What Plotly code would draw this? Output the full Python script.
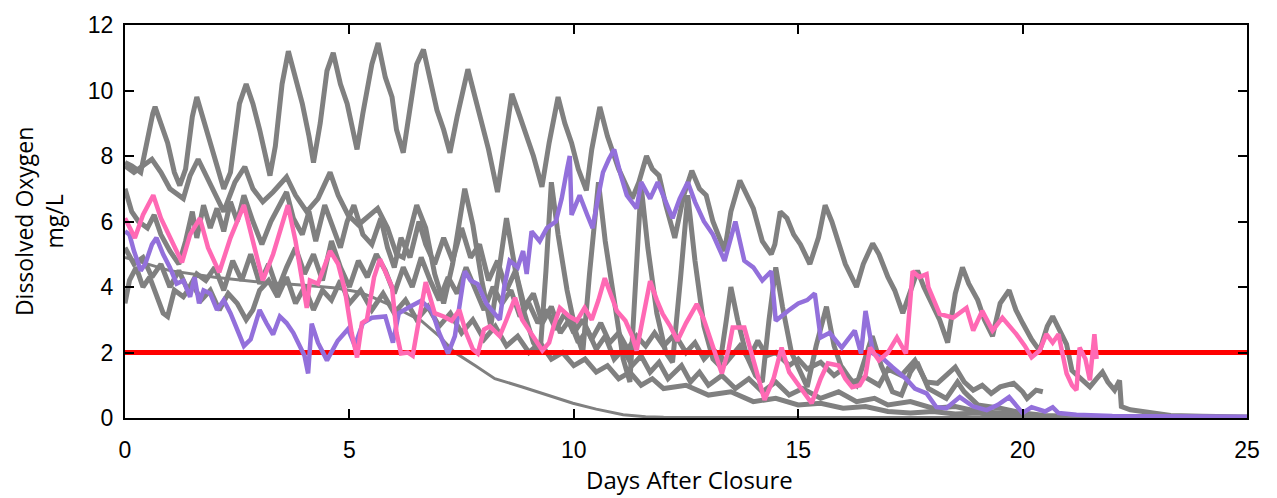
import plotly.graph_objects as go

# Dissolved oxygen (mg/L) after closure, one list of (day, DO) per sensor record
GRAY_A = [(0.0, 7.8), (0.15, 7.7), (0.35, 7.5), (0.5, 8.6), (0.62, 9.3), (0.67, 9.5), (0.8, 9.0), (0.95, 8.4),
          (1.1, 7.5), (1.22, 7.1), (1.35, 7.6), (1.5, 9.2), (1.6, 9.8), (1.75, 9.1), (1.9, 8.4), (2.05, 7.6),
          (2.2, 7.0), (2.35, 7.5), (2.55, 9.6), (2.7, 10.2), (2.85, 9.6), (3.0, 8.8), (3.15, 7.8), (3.23, 7.4),
          (3.35, 8.3), (3.5, 10.2), (3.64, 11.2), (3.8, 10.4), (3.95, 9.6), (4.1, 8.6), (4.2, 7.8), (4.35, 9.0),
          (4.5, 10.6), (4.64, 11.15), (4.8, 10.2), (4.95, 9.6), (5.05, 8.9), (5.17, 8.2), (5.3, 9.3), (5.5, 10.8),
          (5.64, 11.45), (5.8, 10.4), (5.95, 9.8), (6.05, 8.8), (6.2, 8.1), (6.35, 9.4), (6.5, 10.8), (6.65, 11.25),
          (6.8, 10.3), (6.95, 9.4), (7.1, 8.8), (7.24, 8.1), (7.4, 9.2), (7.64, 10.65), (7.8, 9.8), (7.95, 9.0),
          (8.1, 8.2), (8.3, 6.9), (8.45, 8.2), (8.62, 9.9), (8.8, 9.2), (8.95, 8.6), (9.1, 8.0), (9.29, 7.06),
          (9.45, 8.4), (9.65, 9.8), (9.8, 9.0), (9.95, 8.4), (10.1, 7.6), (10.28, 6.95), (10.4, 8.2), (10.58, 9.5),
          (10.75, 8.6), (10.9, 8.0), (11.0, 7.6), (11.3, 6.7), (11.45, 7.2), (11.62, 8.0), (11.75, 7.6), (11.9, 7.4),
          (12.05, 6.5), (12.25, 5.5), (12.45, 6.8), (12.63, 7.55), (12.8, 7.0), (12.95, 6.8), (13.1, 6.0),
          (13.36, 5.1), (13.5, 6.3), (13.7, 7.25), (13.85, 6.8), (14.0, 6.4), (14.2, 5.4), (14.4, 5.0),
          (14.48, 5.3), (14.6, 6.3), (14.75, 6.1), (14.9, 5.6), (15.05, 5.3), (15.26, 4.7), (15.45, 5.5),
          (15.6, 6.5), (15.75, 6.0), (15.9, 5.3), (16.05, 4.7), (16.3, 4.0), (16.45, 4.7), (16.66, 5.33),
          (16.8, 5.0), (17.0, 4.3), (17.15, 3.9), (17.33, 3.2), (17.5, 3.9), (17.66, 4.5), (17.8, 4.0),
          (18.0, 3.4), (18.15, 3.0), (18.33, 2.3), (18.5, 3.8), (18.66, 4.6), (18.8, 4.1), (19.0, 3.6),
          (19.15, 3.0), (19.33, 2.5), (19.5, 3.5), (19.7, 3.9), (19.85, 3.3), (20.0, 2.9), (20.2, 2.4),
          (20.38, 2.05), (20.55, 2.8), (20.67, 3.1), (20.85, 2.6), (20.98, 2.25), (21.1, 1.45), (21.3, 1.2),
          (21.5, 0.95), (21.65, 1.2), (21.78, 1.4), (21.9, 1.1), (22.05, 0.85), (22.16, 1.15), (22.2, 0.35),
          (22.4, 0.25), (22.76, 0.18), (23.0, 0.12), (23.3, 0.08), (24.0, 0.05), (25.0, 0.03)]

GRAY_B = [(0.0, 7.7), (0.2, 7.5), (0.4, 7.7), (0.6, 7.9), (0.8, 7.5), (1.0, 7.0), (1.3, 6.7), (1.45, 7.4),
          (1.63, 7.9), (1.8, 7.4), (2.0, 6.8), (2.2, 6.3), (2.45, 7.2), (2.67, 7.67), (2.85, 7.0), (3.07, 6.6),
          (3.3, 6.9), (3.6, 7.36), (3.8, 6.8), (4.05, 6.3), (4.3, 6.7), (4.57, 7.5), (4.75, 6.8), (4.97, 6.2),
          (5.2, 5.9), (5.45, 6.2), (5.63, 6.4), (5.85, 5.8), (6.05, 5.0), (6.2, 4.9), (6.35, 5.7), (6.5, 6.5),
          (6.7, 5.8), (6.9, 4.4), (7.1, 3.5), (7.3, 4.7), (7.57, 7.0), (7.75, 5.9), (7.95, 4.2), (8.15, 2.8),
          (8.3, 4.2), (8.5, 6.1), (8.7, 4.5), (8.9, 3.2), (9.1, 2.3), (9.25, 2.0), (9.38, 4.5), (9.5, 7.2),
          (9.65, 5.6), (9.85, 3.9), (10.05, 2.6), (10.2, 2.0), (10.35, 4.4), (10.55, 7.2), (10.7, 5.4),
          (10.9, 3.6), (11.1, 1.8), (11.25, 1.1), (11.38, 4.2), (11.5, 7.1), (11.65, 5.2), (11.85, 3.2),
          (12.05, 2.0), (12.2, 1.7), (12.38, 4.3), (12.54, 6.8), (12.7, 4.8), (12.9, 2.8), (13.1, 1.8),
          (13.25, 1.6), (13.4, 3.0), (13.5, 4.0), (13.65, 3.0), (13.85, 1.9), (14.05, 1.3), (14.2, 1.1),
          (14.35, 3.0), (14.5, 4.6), (14.65, 3.4), (14.85, 2.0), (15.05, 1.4), (15.2, 0.95), (15.4, 2.2),
          (15.63, 3.4), (15.8, 2.2), (16.0, 1.4), (16.3, 1.0), (16.5, 1.9), (16.65, 2.5), (16.85, 1.6),
          (17.1, 0.8), (17.3, 0.7), (17.5, 1.4), (17.65, 1.7), (17.9, 0.9), (18.3, 0.6), (18.55, 1.1),
          (18.7, 0.8), (19.0, 0.4), (19.5, 0.3), (20.0, 0.15), (20.5, 0.08), (21.0, 0.05)]

GRAY_C = [(0.0, 7.0), (0.15, 6.3), (0.3, 6.0), (0.5, 5.8), (0.65, 6.2), (0.8, 5.6), (1.0, 5.1), (1.2, 4.7),
          (1.35, 5.4), (1.5, 6.3), (1.6, 5.5), (1.75, 6.5), (1.9, 5.8), (2.05, 6.4), (2.2, 5.7), (2.35, 6.6),
          (2.5, 6.0), (2.65, 6.8), (2.85, 6.0), (3.05, 5.3), (3.25, 6.0), (3.45, 6.5), (3.6, 6.9), (3.75, 6.1),
          (3.95, 5.6), (4.1, 6.3), (4.25, 5.4), (4.45, 6.5), (4.6, 5.9), (4.8, 5.2), (4.95, 6.0), (5.1, 6.5),
          (5.3, 5.6), (5.5, 5.3), (5.7, 6.1), (5.85, 5.2), (6.0, 4.6), (6.15, 5.5), (6.35, 4.9), (6.55, 6.0),
          (6.7, 5.3), (6.9, 4.7), (7.1, 5.5), (7.3, 4.8), (7.5, 5.8), (7.7, 4.9), (7.9, 5.3), (8.1, 4.2),
          (8.3, 4.8), (8.5, 3.9), (8.7, 4.5), (8.9, 3.4), (9.1, 3.8), (9.3, 2.9), (9.5, 3.4), (9.7, 2.6),
          (9.9, 3.0), (10.1, 2.3), (10.3, 2.7), (10.5, 2.1), (10.7, 2.5), (10.9, 1.8), (11.1, 2.1), (11.3, 1.6),
          (11.5, 1.9), (11.7, 1.4), (11.9, 1.7), (12.1, 1.2), (12.4, 1.6), (12.6, 1.1), (12.8, 1.4), (13.0, 1.0),
          (13.3, 1.3), (13.6, 0.9), (13.9, 1.2), (14.2, 0.8), (14.5, 1.1), (14.8, 0.7), (15.1, 0.9), (15.5, 0.6),
          (15.9, 0.8), (16.3, 0.5), (16.7, 0.6), (17.0, 0.4), (17.5, 0.5), (18.0, 0.3), (18.5, 0.35),
          (19.0, 0.2), (19.5, 0.15), (20.0, 0.1), (20.5, 0.05)]

GRAY_D = [(0.0, 5.2), (0.2, 4.7), (0.4, 4.9), (0.6, 4.3), (0.8, 4.7), (1.0, 4.0), (1.2, 4.5), (1.4, 3.9),
          (1.6, 4.4), (1.8, 4.2), (2.0, 4.6), (2.2, 3.9), (2.4, 4.8), (2.6, 4.2), (2.8, 5.0), (3.0, 4.1),
          (3.2, 4.7), (3.4, 3.9), (3.6, 4.6), (3.8, 5.2), (4.0, 4.4), (4.2, 5.0), (4.4, 4.2), (4.6, 5.4),
          (4.8, 4.6), (5.0, 4.0), (5.2, 4.8), (5.4, 4.3), (5.6, 5.0), (5.8, 4.5), (6.0, 3.8), (6.2, 4.6),
          (6.4, 4.0), (6.6, 4.9), (6.8, 4.2), (7.0, 3.6), (7.2, 4.3), (7.4, 3.8), (7.6, 4.6), (7.8, 3.9),
          (8.0, 3.3), (8.2, 4.0), (8.4, 3.5), (8.6, 3.9), (8.8, 3.1), (9.0, 3.5), (9.2, 2.9), (9.4, 3.3),
          (9.6, 2.7), (9.8, 3.2), (10.0, 2.6), (10.2, 3.0), (10.4, 2.4), (10.6, 2.9), (10.8, 2.3), (11.0, 2.6),
          (11.2, 2.1), (11.4, 2.5), (11.6, 2.2), (11.8, 2.6), (12.0, 2.2), (12.25, 2.56), (12.5, 2.0),
          (12.7, 2.3), (12.9, 1.8), (13.1, 2.1), (13.4, 1.7), (13.7, 2.2), (13.9, 1.8), (14.1, 2.36),
          (14.3, 1.9), (14.5, 2.0), (14.8, 1.6), (15.0, 1.8), (15.2, 1.5), (15.5, 1.7), (15.8, 1.3), (16.0, 1.5),
          (16.2, 1.1), (16.5, 1.24), (16.8, 1.0), (17.0, 1.5), (17.3, 1.3), (17.6, 1.76), (17.85, 1.1),
          (18.1, 1.06), (18.3, 1.3), (18.5, 1.55), (18.7, 1.1), (18.9, 0.85), (19.1, 1.0), (19.3, 0.75),
          (19.5, 0.95), (19.6, 1.0), (19.8, 1.06), (20.0, 0.8), (20.1, 0.6), (20.3, 0.85), (20.45, 0.8)]

GRAY_E = [(0.0, 3.5), (0.1, 4.2), (0.25, 4.6), (0.4, 4.0), (0.55, 4.3), (0.7, 3.7), (0.85, 3.2), (0.95, 3.1),
          (1.1, 3.9), (1.3, 3.7), (1.5, 4.1), (1.7, 3.6), (1.9, 3.9), (2.1, 3.3), (2.3, 3.8), (2.5, 3.5),
          (2.7, 3.0), (2.85, 3.3), (3.0, 3.9), (3.2, 4.2), (3.4, 3.7), (3.6, 4.3), (3.8, 3.5), (4.0, 4.0),
          (4.2, 3.3), (4.4, 3.9), (4.6, 3.6), (4.8, 4.2), (5.0, 3.5), (5.25, 3.9), (5.5, 3.3), (5.75, 3.8),
          (6.0, 3.2), (6.25, 3.6), (6.5, 3.0), (6.75, 3.4), (7.0, 2.8), (7.25, 3.2), (7.5, 2.6), (7.75, 3.0),
          (8.0, 2.4), (8.25, 2.8), (8.5, 2.2), (8.75, 2.5), (9.0, 2.0), (9.25, 2.3), (9.5, 1.8), (9.75, 2.0),
          (10.0, 1.6), (10.25, 1.8), (10.5, 1.4), (10.75, 1.6), (11.0, 1.2), (11.25, 1.4), (11.5, 1.0),
          (11.75, 1.2), (12.0, 0.9), (12.5, 1.0), (13.0, 0.7), (13.5, 0.8), (14.0, 0.5), (14.5, 0.6),
          (15.0, 0.4), (15.5, 0.45), (16.0, 0.3), (16.5, 0.35), (17.0, 0.2), (17.5, 0.15), (18.0, 0.2),
          (18.5, 0.12), (19.0, 0.15), (19.5, 0.08), (20.0, 0.1), (20.5, 0.05), (21.0, 0.03)]

# record whose oxygen falls off smoothly to zero
GRAY_SMOOTH = [(0.0, 4.9), (1.0, 4.5), (2.0, 4.3), (3.0, 4.15), (4.0, 4.05), (4.7, 3.97), (5.2, 3.85),
               (5.5, 3.7), (5.86, 3.48), (6.2, 3.25), (6.6, 2.97), (7.0, 2.5), (7.35, 2.0), (7.8, 1.6),
               (8.24, 1.2), (8.87, 0.94), (9.5, 0.65), (9.98, 0.45), (10.5, 0.27), (11.1, 0.1), (11.6, 0.04),
               (12.0, 0.02), (25.0, 0.01)]

PURPLE = [(0.0, 5.7), (0.1, 5.6), (0.2, 5.1), (0.35, 4.5), (0.45, 4.7), (0.6, 5.3), (0.7, 5.5), (0.85, 5.0),
          (1.0, 4.6), (1.15, 4.1), (1.3, 4.2), (1.45, 3.7), (1.55, 4.3), (1.65, 3.5), (1.75, 3.9), (1.9, 3.8),
          (2.05, 3.3), (2.2, 3.6), (2.35, 3.2), (2.5, 2.7), (2.65, 2.2), (2.8, 2.4), (3.0, 3.3), (3.15, 2.9),
          (3.3, 2.55), (3.45, 3.1), (3.6, 2.9), (3.75, 2.6), (3.9, 2.2), (4.0, 1.9), (4.08, 1.36), (4.16, 2.88),
          (4.3, 2.3), (4.5, 1.76), (4.74, 2.36), (4.97, 2.72), (5.12, 2.2), (5.3, 2.9), (5.5, 3.06), (5.8, 3.1),
          (5.97, 2.3), (6.1, 3.2), (6.35, 3.4), (6.6, 3.58), (6.84, 3.27), (7.0, 2.6), (7.2, 1.97), (7.35, 2.5),
          (7.57, 4.48), (7.7, 4.2), (7.86, 4.09), (8.05, 3.5), (8.24, 3.18), (8.35, 3.0), (8.45, 4.0),
          (8.57, 4.8), (8.75, 4.6), (8.87, 5.1), (8.95, 4.4), (9.06, 5.7), (9.24, 5.4), (9.4, 5.8), (9.6, 6.0),
          (9.73, 6.7), (9.85, 7.6), (9.91, 8.0), (9.95, 6.2), (10.13, 6.8), (10.3, 6.2), (10.42, 5.8),
          (10.55, 6.8), (10.65, 7.5), (10.78, 7.9), (10.9, 8.2), (11.05, 7.4), (11.18, 6.8), (11.4, 6.4),
          (11.5, 7.2), (11.7, 6.7), (11.87, 7.2), (12.05, 6.6), (12.2, 6.1), (12.36, 6.7), (12.54, 7.2),
          (12.7, 6.6), (12.9, 6.0), (13.1, 5.6), (13.36, 4.8), (13.6, 6.0), (13.8, 4.8), (14.0, 4.6),
          (14.2, 4.2), (14.4, 4.48), (14.5, 2.97), (14.77, 3.27), (15.0, 3.5), (15.2, 3.6), (15.37, 3.8),
          (15.5, 2.46), (15.7, 2.6), (15.97, 2.15), (16.26, 2.67), (16.4, 1.97), (16.5, 3.27), (16.67, 1.97),
          (16.9, 1.8), (17.1, 1.55), (17.4, 1.2), (17.6, 0.9), (17.86, 0.75), (18.08, 0.33), (18.3, 0.3),
          (18.6, 0.64), (18.9, 0.35), (19.2, 0.24), (19.45, 0.4), (19.7, 0.64), (20.0, 0.15), (20.2, 0.33),
          (20.5, 0.2), (20.67, 0.33), (20.8, 0.15), (21.2, 0.1), (22.0, 0.06), (23.0, 0.05), (24.0, 0.04),
          (25.0, 0.04)]

PINK = [(0.0, 6.1), (0.22, 5.5), (0.4, 6.2), (0.63, 6.8), (0.8, 6.1), (1.0, 5.5), (1.27, 4.75), (1.45, 5.6),
        (1.67, 6.1), (1.85, 5.2), (2.1, 4.45), (2.35, 5.5), (2.65, 6.5), (2.85, 5.4), (3.07, 4.2), (3.3, 5.0),
        (3.63, 6.5), (3.8, 5.4), (3.95, 4.1), (4.05, 3.36), (4.12, 4.2), (4.3, 4.1), (4.57, 5.1), (4.75, 4.7),
        (4.9, 3.9), (5.05, 2.6), (5.17, 1.85), (5.28, 2.9), (5.39, 3.0), (5.55, 4.3), (5.68, 4.85), (5.85, 4.3),
        (5.95, 4.0), (6.05, 2.6), (6.15, 1.97), (6.3, 2.0), (6.41, 1.9), (6.55, 3.0), (6.7, 4.15), (6.9, 3.2),
        (7.1, 3.1), (7.28, 2.97), (7.45, 3.3), (7.6, 2.6), (7.75, 2.1), (7.86, 1.97), (8.0, 2.7), (8.13, 2.8),
        (8.35, 2.5), (8.5, 3.0), (8.69, 3.67), (8.85, 3.0), (9.05, 2.6), (9.3, 2.06), (9.45, 2.3), (9.55, 2.8),
        (9.69, 3.36), (9.9, 3.1), (10.07, 2.97), (10.24, 3.36), (10.4, 3.0), (10.55, 3.6), (10.69, 4.27),
        (10.85, 3.7), (10.96, 3.27), (11.15, 2.97), (11.3, 2.5), (11.4, 2.06), (11.55, 3.2), (11.7, 4.18),
        (11.85, 3.6), (11.98, 3.18), (12.15, 2.8), (12.31, 2.36), (12.5, 2.9), (12.74, 3.48), (12.9, 3.0),
        (13.1, 2.2), (13.3, 1.36), (13.45, 2.1), (13.54, 2.76), (13.8, 2.76), (13.95, 2.0), (14.1, 1.24),
        (14.25, 0.55), (14.45, 1.2), (14.63, 2.15), (14.8, 1.4), (15.0, 1.0), (15.15, 0.7), (15.3, 0.45),
        (15.5, 1.2), (15.66, 1.67), (15.9, 1.6), (16.05, 1.2), (16.2, 0.94), (16.37, 1.0), (16.5, 1.3),
        (16.6, 2.15), (16.8, 1.76), (17.0, 2.0), (17.2, 2.46), (17.4, 1.97), (17.55, 4.48), (17.7, 4.3),
        (17.86, 4.39), (17.9, 4.0), (18.15, 3.18), (18.45, 3.06), (18.75, 3.36), (18.9, 2.67), (19.1, 3.27),
        (19.33, 2.67), (19.55, 3.06), (19.86, 2.56), (20.05, 2.2), (20.2, 1.85), (20.38, 2.06), (20.53, 2.56),
        (20.67, 2.3), (20.8, 2.56), (20.98, 1.36), (21.1, 1.0), (21.2, 0.85), (21.27, 2.15), (21.4, 1.8),
        (21.5, 1.15), (21.6, 2.56), (21.65, 1.8)]

# hypoxia threshold
THRESHOLD_DO = 2.0
X_RANGE = (0, 25)

X_TICKS = [0, 5, 10, 15, 20, 25]
Y_TICKS = [0, 2, 4, 6, 8, 10, 12]

GRAY = "#808080"
PURPLE_C = "#9370DB"
PINK_C = "#FF69B4"
RED_C = "#FF0000"


def line(points, color, width):
    xs = [p[0] for p in points]
    ys = [p[1] for p in points]
    return go.Scatter(x=xs, y=ys, mode="lines", line=dict(color=color, width=width),
                      hoverinfo="skip", showlegend=False)


fig = go.Figure()
for rec in (GRAY_E, GRAY_D, GRAY_C, GRAY_B, GRAY_A):
    fig.add_trace(line(rec, GRAY, 5))
fig.add_trace(line(GRAY_SMOOTH, GRAY, 3))
fig.add_trace(line([(X_RANGE[0], THRESHOLD_DO), (X_RANGE[1], THRESHOLD_DO)], RED_C, 5))
fig.add_trace(line(PURPLE, PURPLE_C, 4.5))
fig.add_trace(line(PINK, PINK_C, 4.5))

axis_common = dict(
    showline=True, linecolor="black", linewidth=2, mirror="ticks",
    ticks="inside", ticklen=9, tickwidth=2, tickcolor="black",
    showgrid=False, zeroline=False,
    tickfont=dict(family="Liberation Sans, Arial, sans-serif", size=23, color="black"),
)

fig.update_xaxes(range=list(X_RANGE), tickvals=X_TICKS, ticklabelstandoff=10, **axis_common)
fig.update_yaxes(range=[0, 12], tickvals=Y_TICKS, ticklabelstandoff=5, **axis_common)

fig.add_annotation(text="Dissolved Oxygen<br>mg/L", textangle=-90, xref="paper", yref="paper",
                   x=-0.077, y=0.5, xanchor="center", yanchor="middle", showarrow=False,
                   font=dict(family="Open Sans, sans-serif", size=23, color="black"))
fig.add_annotation(text="Days After Closure", xref="paper", yref="paper",
                   x=0.5035, y=-0.2015, xanchor="center", yanchor="bottom", showarrow=False,
                   borderpad=0, font=dict(family="Open Sans, sans-serif", size=24, color="black"))

fig.update_layout(
    width=1277, height=498,
    margin=dict(l=125, r=30, t=22, b=80),
    paper_bgcolor="white", plot_bgcolor="white",
)

fig.write_html("out.html")
